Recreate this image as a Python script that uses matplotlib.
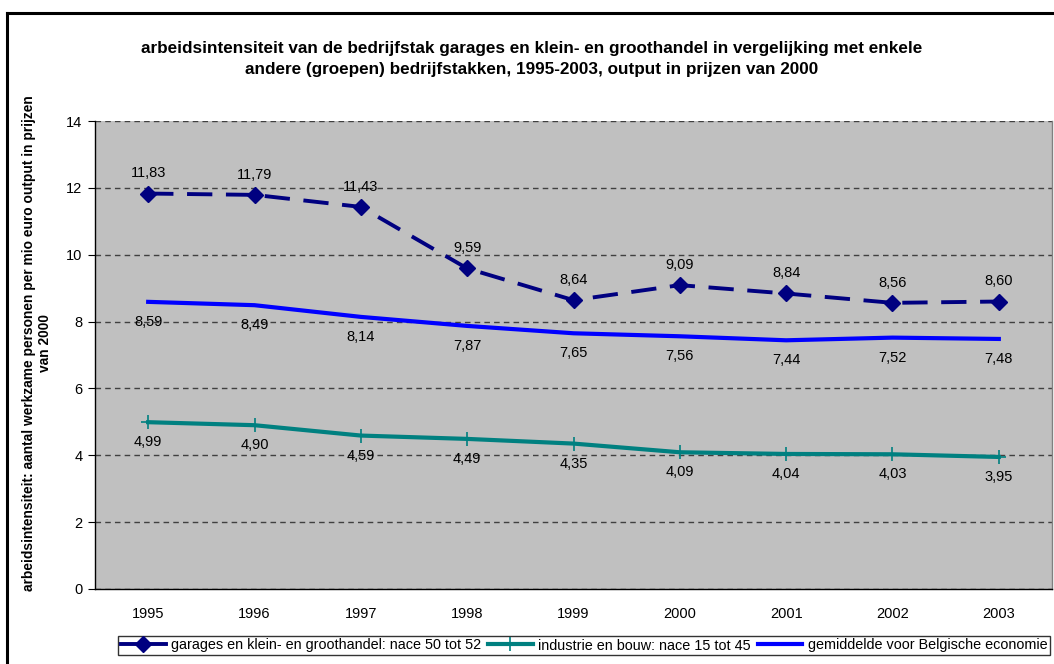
import matplotlib
matplotlib.use("Agg")
import matplotlib.pyplot as plt
from matplotlib.lines import Line2D

plt.rcParams['font.family'] = ['Liberation Sans', 'DejaVu Sans']

# Data
years = ['1995', '1996', '1997', '1998', '1999', '2000', '2001', '2002', '2003']
handel = [11.83, 11.79, 11.43, 9.59, 8.64, 9.09, 8.84, 8.56, 8.60]
industrie = [4.99, 4.90, 4.59, 4.49, 4.35, 4.09, 4.04, 4.03, 3.95]
gemiddelde = [8.59, 8.49, 8.14, 7.87, 7.65, 7.56, 7.44, 7.52, 7.48]

labels = ['garages en klein- en groothandel: nace 50 tot 52',
          'industrie en bouw: nace 15 tot 45',
          'gemiddelde voor Belgische economie']

fig = plt.figure(figsize=(10.54, 6.64), dpi=100)
ax = fig.add_axes([95 / 1054, 1 - 589 / 664, (1052 - 95) / 1054, (589 - 121) / 664])
ax.set_facecolor('#C0C0C0')

x = list(range(len(years)))

l1, = ax.plot(x, handel, color='#000080', lw=2.8, linestyle=(0, (6.5, 3.5)),
              marker='D', markersize=8.5, label=labels[0])
l2, = ax.plot(x, industrie, color='#008080', lw=3, marker='+',
              markersize=10, markeredgewidth=1.2, label=labels[1])
l3, = ax.plot(x, gemiddelde, color='#0000FF', lw=3, label=labels[2])

def fmt(v):
    return f"{v:.2f}".replace('.', ',')

# data labels: above for handel, below for the other two
for i, v in enumerate(handel):
    ax.annotate(fmt(v), (i, v), xytext=(0, 14.5), textcoords='offset points',
                ha='center', va='center', fontsize=10.5)
for i, v in enumerate(gemiddelde):
    ax.annotate(fmt(v), (i, v), xytext=(0, -14.5), textcoords='offset points',
                ha='center', va='center', fontsize=10.5)
for i, v in enumerate(industrie):
    ax.annotate(fmt(v), (i, v), xytext=(0, -14.5), textcoords='offset points',
                ha='center', va='center', fontsize=10.5)

ax.set_xlim(-0.5, len(years) - 0.5)
ax.set_ylim(0, 14)
ax.set_yticks(range(0, 15, 2))
ax.set_xticks(x)
ax.set_xticklabels(years)
ax.tick_params(axis='x', length=0, pad=13, labelsize=10.5)
ax.tick_params(axis='y', length=5, direction='out', pad=4, labelsize=10.5)

ax.grid(axis='y', color='#404040', linestyle=(0, (4, 3)), lw=1)
ax.set_axisbelow(True)
for s in ['left', 'bottom']:
    ax.spines[s].set_color('black')
    ax.spines[s].set_linewidth(1)
ax.spines['top'].set_visible(False)
ax.spines['right'].set_color('#808080')
ax.spines['right'].set_linewidth(1)

ax.set_ylabel('arbeidsintensiteit: aantal werkzame personen per mio euro output in prijzen\nvan 2000',
              fontsize=9.9, fontweight='bold', linespacing=1.2)
ax.yaxis.set_label_coords(-43 / 957, (589 - 343) / 468)

fig.text(532 / 1054, 1 - 59 / 664,
         'arbeidsintensiteit van de bedrijfstak garages en klein- en groothandel in vergelijking met enkele\n'
         'andere (groepen) bedrijfstakken, 1995-2003, output in prijzen van 2000',
         ha='center', va='center', fontsize=12.3, fontweight='bold', linespacing=1.55)

leg = fig.legend(handles=[l1, l2, l3], loc='center', ncol=3,
                 bbox_to_anchor=(584 / 1054, 1 - 645.5 / 664),
                 fontsize=10.4, frameon=True, fancybox=False, edgecolor='black',
                 handlelength=3.1, handletextpad=0.35, columnspacing=0.5,
                 borderpad=0.2, borderaxespad=0)
leg.get_frame().set_linewidth(1)
for h in leg.legend_handles:
    h.set_linestyle('-')

# outer chart border (top and left only visible)
fig.add_artist(Line2D([7 / 1054, 1], [1 - 12.5 / 664, 1 - 12.5 / 664],
                      transform=fig.transFigure, color='black', lw=2.2))
fig.add_artist(Line2D([7 / 1054, 7 / 1054], [0, 1 - 12.5 / 664],
                      transform=fig.transFigure, color='black', lw=2.2))

fig.savefig('out.png', dpi=100)
